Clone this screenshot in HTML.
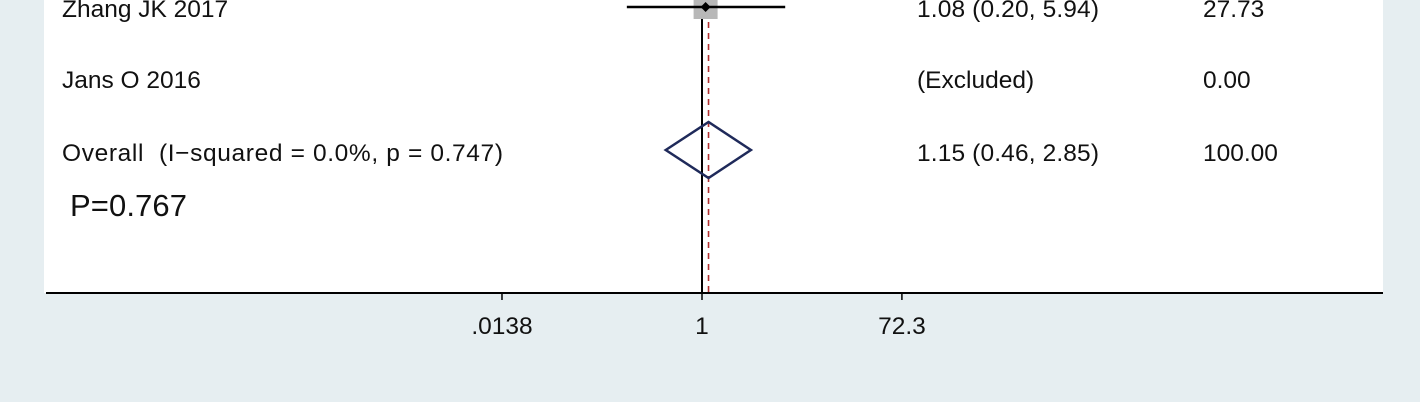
<!DOCTYPE html>
<html><head><meta charset="utf-8"><style>
html,body{margin:0;padding:0;background:#e6eef1;}
svg{display:block;font-family:"Liberation Sans","DejaVu Sans",sans-serif;}
text{white-space:pre;}
</style></head><body>
<svg width="1420" height="402" viewBox="0 0 1420 402" xmlns="http://www.w3.org/2000/svg">
<rect x="0" y="0" width="1420" height="402" fill="#e6eef1"/>
<rect x="44" y="0" width="1339" height="293" fill="#ffffff"/>
<g id="marks"></g>
<g fill="#111" font-size="24.5">
<text x="62" y="17">Zhang JK 2017</text>
<text x="62" y="88">Jans O 2016</text>
<text x="62" y="161" textLength="441">Overall  (I−squared = 0.0%, p = 0.747)</text>
<text x="917" y="17" textLength="182">1.08 (0.20, 5.94)</text>
<text x="917" y="88">(Excluded)</text>
<text x="917" y="161" textLength="182">1.15 (0.46, 2.85)</text>
<text x="1203" y="17">27.73</text>
<text x="1203" y="88">0.00</text>
<text x="1203" y="161">100.00</text>
<text x="70" y="216" font-size="31" textLength="117">P=0.767</text>
</g>
<g id="axis"></g>
</svg>
<script>
const studies = ["Zhang JK 2017"];
const estimates = [1.08];
const lowers = [0.20];
const uppers = [5.94];
const overallEst = [1.15];
const overallLo = [0.46];
const overallHi = [2.85];
const ticks = [0.0138, 1, 72.3];
const tickLabels = [".0138", "1", "72.3"];
const NS = "http://www.w3.org/2000/svg";
function xs(v){ return 702 + Math.log(v) * (200/4.2828); }
function mk(tag, attrs, parent){ const e=document.createElementNS(NS,tag); for(const k in attrs) e.setAttribute(k,attrs[k]); parent.appendChild(e); return e; }
const marks=document.getElementById('marks');
const axis=document.getElementById('axis');
const rowY=[7];
let l=mk('line',{x1:xs(1),x2:xs(1),y1:0,y2:293,stroke:'#000','stroke-width':2},marks);


l=mk('line',{x1:xs(overallEst[0]),x2:xs(overallEst[0]),y1:0,y2:293,stroke:'#b03030','stroke-width':1.6,'stroke-dasharray':'6,5'},marks);


studies.forEach((s,i)=>{
  const y=rowY[i];
  let r=mk('rect',{x:xs(estimates[i])-12,y:y-12,width:24,height:24,fill:'#b8b8b8'},marks);
  
  
  let c=mk('line',{x1:xs(lowers[i]),x2:xs(uppers[i]),y1:y,y2:y,stroke:'#000','stroke-width':2.5},marks);
  
  
  const px=xs(estimates[i]);
  let d=mk('polygon',{points:`${px},${y-5} ${px+5},${y} ${px},${y+5} ${px-5},${y}`,fill:'#000'},marks);
  
  
});
const cy=150;
let dm=mk('polygon',{points:`${xs(overallLo[0])},${cy} ${xs(overallEst[0])},${cy-28} ${xs(overallHi[0])},${cy} ${xs(overallEst[0])},${cy+28}`,fill:'none',stroke:'#1f2a5a','stroke-width':2.5},marks);


let ax=mk('line',{x1:46,x2:1383,y1:293,y2:293,stroke:'#000','stroke-width':2},axis);


ticks.forEach((t,i)=>{
  let tk=mk('line',{x1:xs(t),x2:xs(t),y1:293,y2:300,stroke:'#000','stroke-width':1.5},axis);
  
  
  let tl=mk('text',{x:xs(t),y:334,'text-anchor':'middle','font-size':24.5,fill:'#111'},axis);
  tl.textContent=tickLabels[i];
  
  
});
</script>
</body></html>
